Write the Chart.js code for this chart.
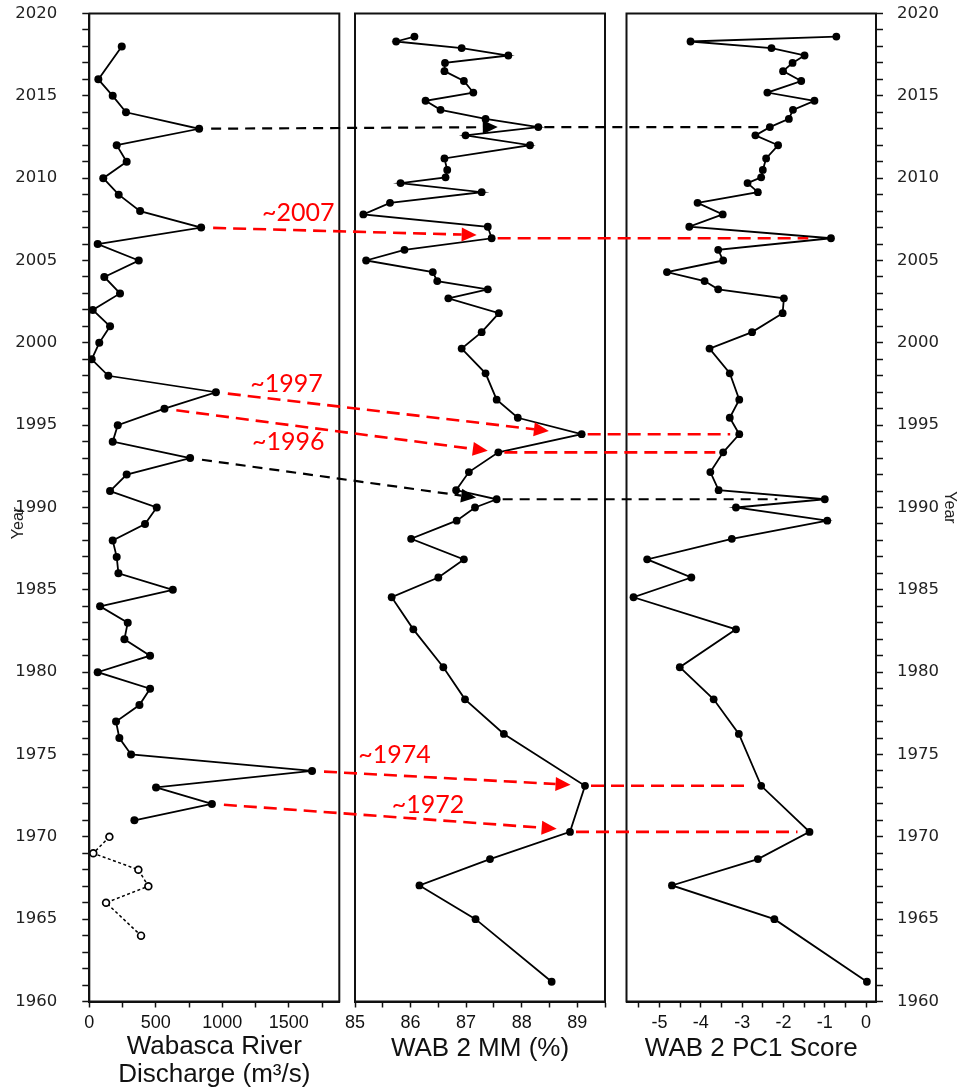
<!DOCTYPE html>
<html><head><meta charset="utf-8">
<script src="https://cdn.jsdelivr.net/npm/chart.js@4.4.0/dist/chart.umd.min.js"></script>
<style>html,body{margin:0;padding:0;background:#fff;}canvas{display:block;}</style>
</head><body>
<canvas id="c" width="963" height="1092"></canvas>
<script>
// ---- Panel 1: Wabasca River discharge (m3/s), gauged record ----
const dischargeYears = [2018,2016,2015,2014,2013,2012,2011,2010,2009,2008,2007,2006,2005,2004,2003,2002,2001,2000,
  1999,1998,1997,1996,1995,1994,1993,1992,1991,1990,1989,1988,1987,1986,1985,1984,1983,1982,1981,1980,
  1979,1978,1977,1976,1975,1974,1973,1972,1971];
const dischargeValues = [244,68,176,276,826,206,281,105,221,382,841,63,372,113,231,26,156,75,
  18,143,952,565,214,176,758,281,156,507,419,176,206,219,628,81,289,264,457,63,
  457,377,201,226,314,1675,502,922,339];
// early record (dotted line, open symbols)
const earlyYears = [1970,1969,1968,1967,1966,1964];
const earlyValues = [151,30,369,444,126,389];

// ---- Core WAB 2 (dated sediment intervals) ----
const coreYears = [2018.6,2018.3,2017.9,2017.45,2017.0,2016.5,2015.9,2015.2,2014.7,2014.15,2013.6,2013.1,2012.6,2012.0,
  2011.2,2010.5,2010.05,2009.7,2009.15,2008.5,2007.8,2007.05,2006.35,2005.65,2005.0,2004.3,2003.75,2003.25,2002.7,
  2001.8,2000.65,1999.65,1998.15,1996.55,1995.45,1994.45,1993.35,1992.15,1991.05,1990.5,1990.0,1989.2,1988.1,
  1986.85,1985.75,1984.55,1982.6,1980.3,1978.35,1976.25,1973.1,1970.3,1968.65,1967.05,1965.0,1961.2];
const mmValues = [86.07,85.74,86.92,87.76,86.62,86.61,86.96,87.13,86.27,86.54,87.35,88.30,86.99,88.15,
  86.61,86.66,86.63,85.82,87.28,85.63,85.15,87.39,87.46,85.89,85.20,86.40,86.48,87.39,86.68,
  87.59,87.28,86.92,87.35,87.55,87.93,89.08,87.58,87.05,86.82,87.55,87.16,86.83,86.01,
  86.96,86.50,85.66,86.05,86.59,86.98,87.68,89.14,88.87,87.43,86.16,87.17,88.54];
const pc1Values = [-0.72,-4.25,-2.29,-1.49,-1.78,-2.01,-1.57,-2.39,-1.25,-1.77,-1.87,-2.33,-2.68,-2.13,
  -2.42,-2.50,-2.54,-2.87,-2.62,-4.08,-3.47,-4.28,-0.85,-3.58,-3.46,-4.82,-3.91,-3.58,-1.99,
  -2.02,-2.76,-3.79,-3.30,-3.07,-3.30,-3.07,-3.46,-3.77,-3.57,-1.00,-3.15,-0.94,-3.25,
  -5.30,-4.23,-5.63,-3.15,-4.51,-3.69,-3.08,-2.54,-1.37,-2.62,-4.70,-2.22,0.02];

// ---- tick labels ----
const yearTicks = [1960,1965,1970,1975,1980,1985,1990,1995,2000,2005,2010,2015,2020];
const dischargeTicks = [0,500,1000,1500];
const mmTicks = [85,86,87,88,89];
const pc1Ticks = [-5,-4,-3,-2,-1,0];

// ---- correlation arrows (discharge peak year -> core interval) ----
const arrowStartYears = [2013,2007,1997,1996,1993,1974,1972];
const arrowCoreIndex = [11,22,35,36,39,50,51];
const arrowTipMM = [87.57,87.19,88.49,87.39,87.18,88.88,88.63];
const arrowTipYears = [2013.1,2006.55,1994.65,1993.44,1990.6,1973.16,1970.49];
const arrowEndPC1 = [-2.49,-1.4,-3.29,-3.65,-2.15,-2.80,-1.66];
const arrowLabels = ['','~2007','~1997','~1996','','~1974','~1972'];
const arrowIsRed = [false,true,true,true,false,true,true];
// label anchors (axis, value, baseline year)
const labelAnchors = [null,['x1',1298,2007.42],['x1',1210,1997.04],['x1',1223,1993.5],null,['x2',85.06,1974.47],['x2',85.66,1971.44]];

const INK = '#111';
const pts = (xs, ys) => xs.map((v, i) => ({x: v, y: ys[i]}));

function dashed(ctx, x0, y0, x1, y1, color, w, dash) {
  ctx.save();
  ctx.strokeStyle = color; ctx.lineWidth = w; ctx.setLineDash(dash); ctx.lineCap = 'butt';
  ctx.beginPath(); ctx.moveTo(x0, y0); ctx.lineTo(x1, y1); ctx.stroke();
  ctx.restore();
}
function head(ctx, xt, yt, ux, uy, len, wid, color) {
  const bx = xt - ux * len, by = yt - uy * len;
  const px = -uy * wid / 2, py = ux * wid / 2;
  ctx.save(); ctx.fillStyle = color;
  ctx.beginPath(); ctx.moveTo(xt, yt); ctx.lineTo(bx + px, by + py); ctx.lineTo(bx - px, by - py); ctx.closePath(); ctx.fill();
  ctx.restore();
}

const decor = {
  id: 'decor',
  beforeDatasetsDraw(chart) {
    const ctx = chart.ctx, ya = chart.scales.y;
    ctx.save(); ctx.strokeStyle = INK; ctx.lineWidth = 2;
    ['x1','x2','x3'].forEach(id => {
      const s = chart.scales[id];
      ctx.strokeRect(s.left, ya.top, s.right - s.left, ya.bottom - ya.top);
    });
    ctx.restore();
  },
  afterDatasetsDraw(chart) {
    const ctx = chart.ctx, S = chart.scales;
    arrowStartYears.forEach((yr, k) => {
      const color = arrowIsRed[k] ? '#ff0000' : '#000';
      const w = arrowIsRed[k] ? 2.6 : 2.2;
      const dash = arrowIsRed[k] ? [13, 7] : [10, 7];
      const i = dischargeYears.indexOf(yr);
      const x0 = S.x1.getPixelForValue(dischargeValues[i]), y0 = S.y.getPixelForValue(yr);
      const xt = S.x2.getPixelForValue(arrowTipMM[k]), yt = S.y.getPixelForValue(arrowTipYears[k]);
      const dx = xt - x0, dy = yt - y0, L = Math.hypot(dx, dy), ux = dx / L, uy = dy / L;
      const hl = 15, hw = 14;
      dashed(ctx, x0 + ux * 12, y0 + uy * 12, xt - ux * hl, yt - uy * hl, color, w, dash);
      head(ctx, xt, yt, ux, uy, hl, hw, color);
      const ci = arrowCoreIndex[k];
      const yc = S.y.getPixelForValue(coreYears[ci]);
      dashed(ctx, S.x2.getPixelForValue(mmValues[ci]) + 6, yc, S.x3.getPixelForValue(arrowEndPC1[k]), yc, color, w, dash);
      const a = labelAnchors[k];
      if (a) {
        ctx.save(); ctx.fillStyle = '#ff0000'; ctx.font = '25px Lato'; ctx.textAlign = 'left'; ctx.textBaseline = 'alphabetic';
        ctx.fillText(arrowLabels[k], S[a[0]].getPixelForValue(a[1]), S.y.getPixelForValue(a[2]));
        ctx.restore();
      }
    });
  }
};

const tickFont = {family: 'Liberation Sans', size: 18};
const titleFont = {family: 'Liberation Sans', size: 26, lineHeight: 1.08};
function xAxis(min, max, step, labels, title, weight, padBottom) {
  return {
    type: 'linear', position: 'bottom', stack: 'panels', stackWeight: weight, min, max,
    border: {display: true, color: INK, width: 2},
    grid: {display: true, drawOnChartArea: false, drawTicks: true, tickLength: 6, tickColor: INK, tickWidth: 1.5},
    ticks: {stepSize: step, includeBounds: false, autoSkip: false, maxRotation: 0, minRotation: 0, padding: 5, color: INK, font: tickFont,
      callback: v => { const r = Math.round(v * 100) / 100; return labels.includes(r) ? String(r) : ''; }},
    title: {display: true, text: title, color: INK, font: titleFont, padding: {top: 0, bottom: padBottom}},
    afterFit: s => { s.height = 90.5; }
  };
}
function spacer(weight) {
  return {type: 'linear', position: 'bottom', stack: 'panels', stackWeight: weight, min: 0, max: 1,
    ticks: {display: false}, grid: {display: false}, border: {display: false}, title: {display: false}};
}
function yAxis(pos, width, titlePad, labelPad, titleText) {
  return {
    type: 'linear', position: pos, min: 1960, max: 2020,
    border: {display: true, color: INK, width: 2},
    grid: {display: true, drawOnChartArea: false, drawTicks: true, tickLength: 7, tickColor: INK, tickWidth: 1.5},
    ticks: {stepSize: 1, autoSkip: false, padding: labelPad, color: '#222', font: {family: 'DejaVu Sans', size: 16.5},
      callback: v => yearTicks.includes(v) ? String(v) : ''},
    title: {display: true, text: titleText, color: '#222', font: {family: 'Liberation Sans', size: 16}, padding: {top: titlePad, bottom: 0}},
    afterFit: s => { s.width = width; s.paddingTop = 0; s.paddingBottom = 0; }
  };
}

new Chart(document.getElementById('c'), {
  type: 'scatter',
  data: {datasets: [
    {data: pts(dischargeValues, dischargeYears), xAxisID: 'x1', yAxisID: 'y', showLine: true,
      borderColor: '#000', borderWidth: 1.8, pointRadius: 4, pointBackgroundColor: '#000', pointBorderWidth: 0},
    {data: pts(earlyValues, earlyYears), xAxisID: 'x1', yAxisID: 'y', showLine: true, borderDash: [3, 2.5],
      borderColor: '#000', borderWidth: 1.5, pointRadius: 3.4, pointBackgroundColor: '#fff', pointBorderColor: '#000', pointBorderWidth: 1.7},
    {data: pts(mmValues, coreYears), xAxisID: 'x2', yAxisID: 'y', showLine: true,
      borderColor: '#000', borderWidth: 1.8, pointRadius: 3.9, pointBackgroundColor: '#000', pointBorderWidth: 0},
    {data: pts(pc1Values, coreYears), xAxisID: 'x3', yAxisID: 'y', showLine: true,
      borderColor: '#000', borderWidth: 1.8, pointRadius: 3.9, pointBackgroundColor: '#000', pointBorderWidth: 0}
  ]},
  options: {
    responsive: false, animation: false, devicePixelRatio: 1, events: [],
    layout: {padding: {top: 13.5, bottom: 0, left: 0, right: 0}},
    plugins: {legend: {display: false}, tooltip: {enabled: false}},
    scales: {
      y: yAxis('left', 89.3, 9, 25, 'Year       '),
      y2: yAxis('right', 87, 4, 14, 'Year'),
      x1: xAxis(0, 1880, 250, dischargeTicks, ['Wabasca River', 'Discharge (m\u00B3/s)'], 250, 3),
      g1: spacer(15.7),
      x2: xAxis(85, 89.5, 0.5, mmTicks, 'WAB 2 MM (%)', 250, 29),
      g2: spacer(21.5),
      x3: xAxis(-5.8, 0.24, 0.5, pc1Ticks, 'WAB 2 PC1 Score', 249.5, 29)
    }
  },
  plugins: [decor]
});
</script>
</body></html>
